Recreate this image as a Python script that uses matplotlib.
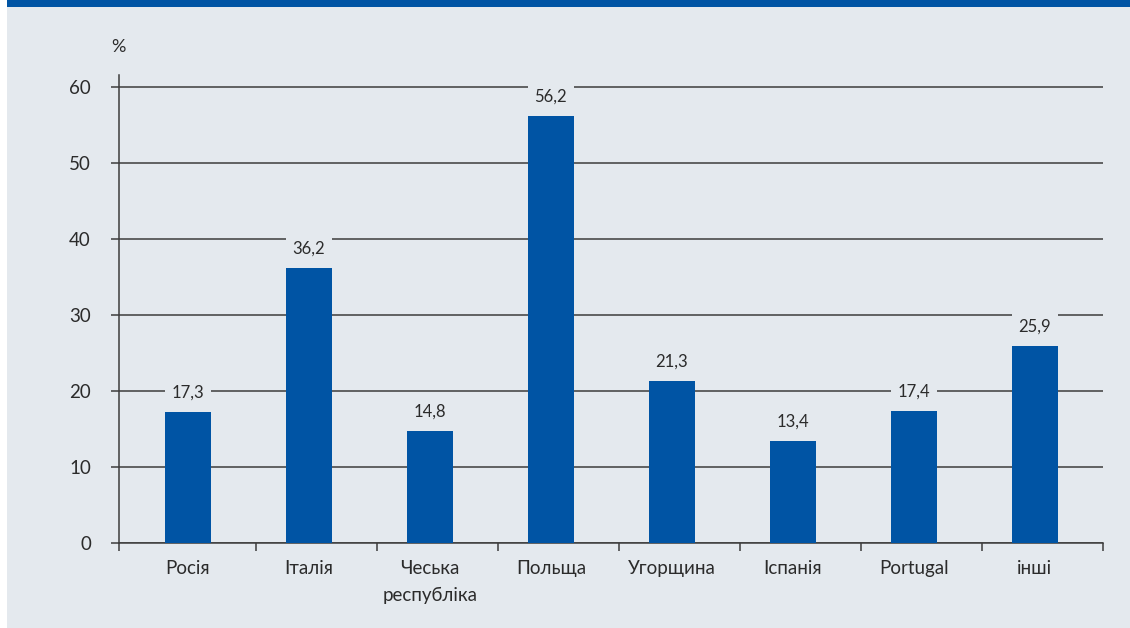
import matplotlib
matplotlib.use("Agg")
from matplotlib import pyplot as plt
from matplotlib.patches import Rectangle

# data
categories = ["Росія", "Італія", "Чеська\nреспубліка", "Польща",
              "Угорщина", "Іспанія", "Portugal", "інші"]
values = [17.3, 36.2, 14.8, 56.2, 21.3, 13.4, 17.4, 25.9]
yticks = [0, 10, 20, 30, 40, 50, 60]

barColor = "#0054a4"
panelColor = "#e4e9ee"
lineColor = "#3c3c3c"
textColor = "#2b2b2b"

plt.rcParams["font.family"] = ["Lato", "DejaVu Sans"]

W, H = 1130, 628
fig = plt.figure(figsize=(W / 100, H / 100), dpi=100)
fig.patch.set_facecolor("white")
fig.patches.append(Rectangle((7 / W, 0), 1 - 7 / W, 1, transform=fig.transFigure,
                             facecolor=panelColor, edgecolor="none", zorder=-2))
fig.patches.append(Rectangle((7 / W, 1 - 7 / H), 1 - 7 / W, 7 / H,
                             transform=fig.transFigure,
                             facecolor=barColor, edgecolor="none", zorder=-1))

left, right, top, bottom = 118.7, 1103, 75, 543
ax = fig.add_axes([left / W, 1 - bottom / H, (right - left) / W, (bottom - top) / H])
ax.set_facecolor("none")

x = list(range(len(categories)))
ax.bar(x, values, width=0.38, color=barColor, zorder=3)

for xi, v in zip(x, values):
    ax.annotate("{:.1f}".format(v).replace(".", ","), (xi, v),
                xytext=(0, 8), textcoords="offset points",
                ha="center", va="bottom", fontsize=12, color=textColor, zorder=4,
                bbox=dict(boxstyle="square,pad=0.4", facecolor=panelColor,
                          edgecolor="none"))

ax.set_xlim(-0.573, 7.564)
ax.set_ylim(0, 61.6)

ax.set_yticks(yticks)
ax.set_yticklabels([str(t) for t in yticks])
ax.yaxis.grid(True, color=lineColor, linewidth=1.1, zorder=0)
ax.set_axisbelow(True)
ax.tick_params(axis="y", direction="out", length=6, width=1.1, color=lineColor,
               labelsize=13.5, labelcolor=textColor, pad=14)

ax.set_xticks(x)
ax.set_xticklabels(categories, fontsize=13.5, color=textColor, linespacing=1.75)
ax.tick_params(axis="x", which="major", length=0, pad=12)
ax.set_xticks([-0.573] + [i + 0.562 for i in range(8)], minor=True)
ax.tick_params(axis="x", which="minor", direction="out", length=6, width=1.1,
               color=lineColor)

for side in ["top", "right"]:
    ax.spines[side].set_visible(False)
for side in ["left", "bottom"]:
    ax.spines[side].set_color(lineColor)
    ax.spines[side].set_linewidth(1.1)

fig.text(118 / W, 1 - 47 / H, "%", ha="center", va="center", fontsize=13,
         color=textColor)

fig.savefig("out.png", dpi=100, facecolor=fig.get_facecolor())
